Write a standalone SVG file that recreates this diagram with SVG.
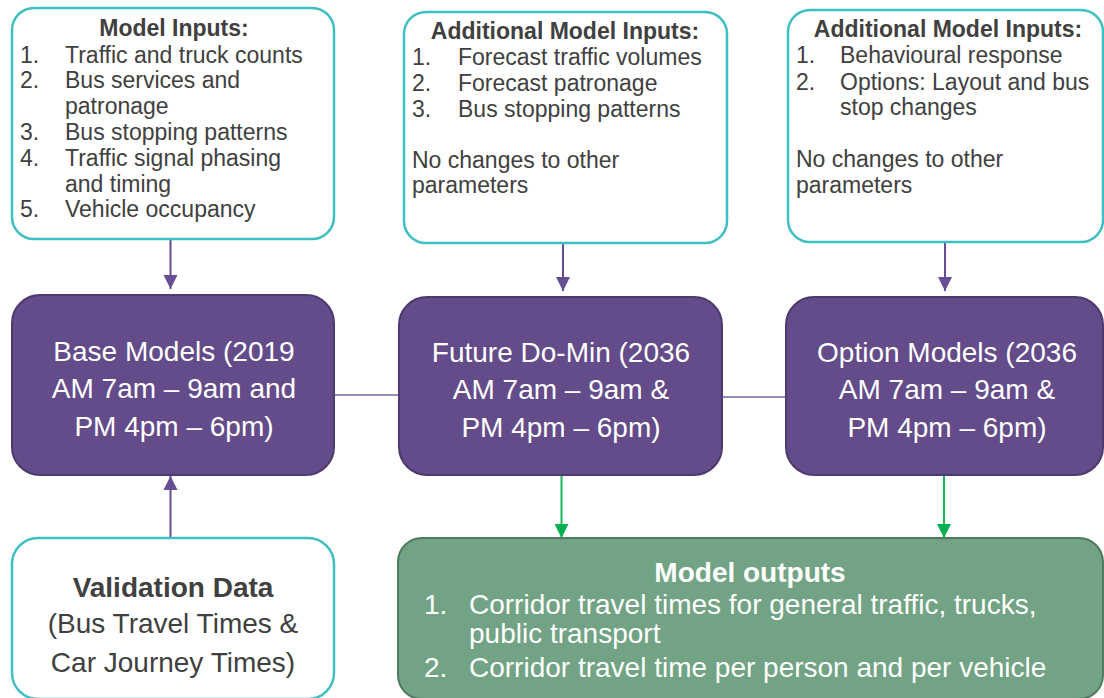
<svg xmlns="http://www.w3.org/2000/svg" width="1104" height="698" viewBox="0 0 1104 698">
<defs>
<style>
.inbox{fill:#ffffff;stroke:#3fbfc1;stroke-width:2.5}
.model{fill:#634c89;stroke:#4d3a6e;stroke-width:2}
.out{fill:#71a384;stroke:#4f7a5e;stroke-width:2}
.t{font-family:"Liberation Sans",Arial,sans-serif;font-size:23px;fill:#404040}
.tb{font-family:"Liberation Sans",Arial,sans-serif;font-size:23px;font-weight:bold;fill:#404040;text-anchor:middle}
.w{font-family:"Liberation Sans",Arial,sans-serif;font-size:28px;fill:#ffffff;text-anchor:middle}
.v{font-family:"Liberation Sans",Arial,sans-serif;font-size:28px;fill:#404040;text-anchor:middle}
.o{font-family:"Liberation Sans",Arial,sans-serif;font-size:28px;fill:#ffffff}
.pl{stroke:#654e94;stroke-width:2;fill:none}
.gl{stroke:#1fb45a;stroke-width:2;fill:none}
.hl{stroke:#9a8ab8;stroke-width:2;fill:none}
</style>
<marker id="ap" markerWidth="14" markerHeight="16" refX="14" refY="7" orient="auto" markerUnits="userSpaceOnUse" viewBox="0 0 14 14">
<path d="M0,0 L14,7 L0,14 Z" fill="#654e94"/>
</marker>
<marker id="ag" markerWidth="14" markerHeight="14" refX="14" refY="7" orient="auto" markerUnits="userSpaceOnUse" viewBox="0 0 14 14">
<path d="M0,0 L14,7 L0,14 Z" fill="#00b050"/>
</marker>
</defs>
<rect width="1104" height="698" fill="#ffffff"/>

<g id="connectors">
<line class="hl" x1="334" y1="395" x2="399" y2="395"/>
<line class="hl" x1="722" y1="397" x2="786" y2="397"/>
<line class="pl" x1="170.5" y1="240" x2="170.5" y2="289" marker-end="url(#ap)"/>
<line class="pl" x1="563" y1="244" x2="563" y2="291" marker-end="url(#ap)"/>
<line class="pl" x1="945" y1="243" x2="945" y2="291" marker-end="url(#ap)"/>
<line class="pl" x1="170.5" y1="537" x2="170.5" y2="476" marker-end="url(#ap)"/>
<line class="gl" x1="561.5" y1="476" x2="561.5" y2="538" marker-end="url(#ag)"/>
<line class="gl" x1="944" y1="476" x2="944" y2="538" marker-end="url(#ag)"/>
</g>

<g id="model-inputs">
<rect class="inbox" x="12" y="8" width="322" height="231" rx="22"/>
<text class="tb" x="174" y="36">Model Inputs:</text>
<text class="t" x="20" y="62.5">1.</text><text class="t" x="65" y="62.5">Traffic and truck counts</text>
<text class="t" x="20" y="88">2.</text><text class="t" x="65" y="88">Bus services and</text>
<text class="t" x="65" y="114">patronage</text>
<text class="t" x="20" y="140">3.</text><text class="t" x="65" y="140">Bus stopping patterns</text>
<text class="t" x="20" y="166">4.</text><text class="t" x="65" y="166">Traffic signal phasing</text>
<text class="t" x="65" y="192">and timing</text>
<text class="t" x="20" y="217">5.</text><text class="t" x="65" y="217">Vehicle occupancy</text>
</g>

<g id="additional-inputs-future">
<rect class="inbox" x="404" y="12" width="323" height="231" rx="22"/>
<text class="tb" x="565" y="39">Additional Model Inputs:</text>
<text class="t" x="412" y="65">1.</text><text class="t" x="458" y="65">Forecast traffic volumes</text>
<text class="t" x="412" y="91">2.</text><text class="t" x="458" y="91">Forecast patronage</text>
<text class="t" x="412" y="117">3.</text><text class="t" x="458" y="117">Bus stopping patterns</text>
<text class="t" x="412" y="168">No changes to other</text>
<text class="t" x="412" y="193">parameters</text>
</g>

<g id="additional-inputs-option">
<rect class="inbox" x="788" y="10" width="315" height="232" rx="22"/>
<text class="tb" x="948" y="37">Additional Model Inputs:</text>
<text class="t" x="796" y="63">1.</text><text class="t" x="840" y="63">Behavioural response</text>
<text class="t" x="796" y="90">2.</text><text class="t" x="840" y="90">Options: Layout and bus</text>
<text class="t" x="840" y="115">stop changes</text>
<text class="t" x="796" y="167">No changes to other</text>
<text class="t" x="796" y="193">parameters</text>
</g>

<g id="base-models">
<rect class="model" x="12" y="295" width="322" height="180" rx="28"/>
<text class="w" x="174" y="361">Base Models (2019</text>
<text class="w" x="174" y="398">AM 7am – 9am and</text>
<text class="w" x="174" y="436">PM 4pm – 6pm)</text>
</g>

<g id="future-do-min">
<rect class="model" x="399" y="297" width="323" height="178" rx="28"/>
<text class="w" x="561" y="362">Future Do-Min (2036</text>
<text class="w" x="561" y="399">AM 7am – 9am &amp;</text>
<text class="w" x="561" y="437">PM 4pm – 6pm)</text>
</g>

<g id="option-models">
<rect class="model" x="786" y="297" width="317" height="178" rx="28"/>
<text class="w" x="947" y="362">Option Models (2036</text>
<text class="w" x="947" y="399">AM 7am – 9am &amp;</text>
<text class="w" x="947" y="437">PM 4pm – 6pm)</text>
</g>

<g id="validation-data">
<rect class="inbox" x="12" y="538" width="322" height="161" rx="26"/>
<text class="v" x="173" y="597" font-weight="bold">Validation Data</text>
<text class="v" x="173" y="633">(Bus Travel Times &amp;</text>
<text class="v" x="173" y="672">Car Journey Times)</text>
</g>

<g id="model-outputs">
<rect class="out" x="398" y="538" width="705" height="161" rx="24"/>
<text class="o" x="750" y="582" font-weight="bold" text-anchor="middle">Model outputs</text>
<text class="o" x="424" y="614">1.</text><text class="o" x="469" y="614">Corridor travel times for general traffic, trucks,</text>
<text class="o" x="469" y="643">public transport</text>
<text class="o" x="424" y="677">2.</text><text class="o" x="469" y="677">Corridor travel time per person and per vehicle</text>
</g>
</svg>
